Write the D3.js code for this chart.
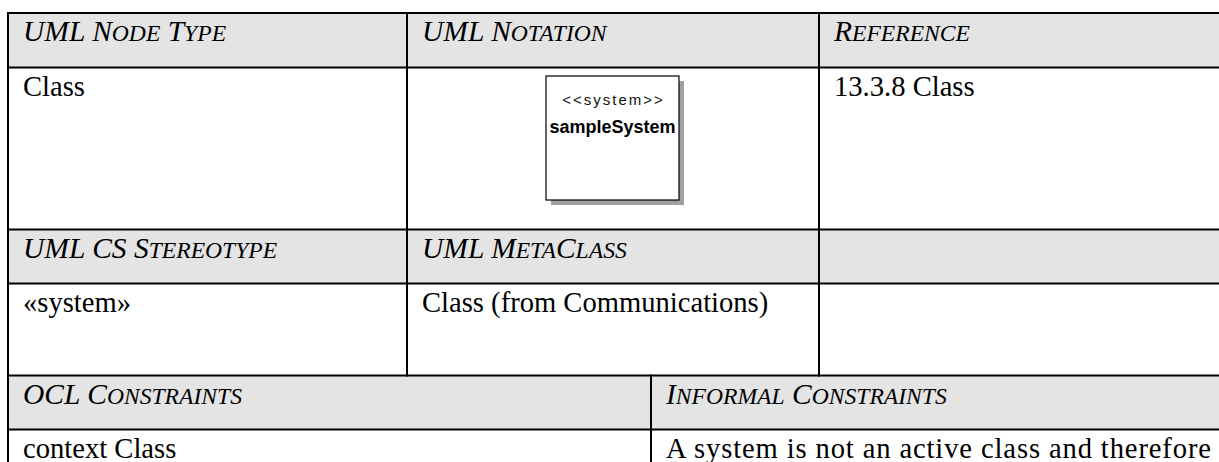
<!DOCTYPE html>
<html>
<head>
<meta charset="utf-8">
<script src="https://cdn.jsdelivr.net/npm/d3@7"></script>
<style>
  html, body { margin: 0; padding: 0; background: #fff; }
  svg { display: block; }
</style>
</head>
<body>
<svg id="chart" width="1219" height="462"></svg>
<script>
// ---- data (table contents) ----
const headerRow1 = ["UML Node Type", "UML Notation", "Reference"];
const bodyRow1 = ["Class", "", "13.3.8 Class"];
const headerRow2 = ["UML CS Stereotype", "UML MetaClass", ""];
const bodyRow2 = ["«system»", "Class (from Communications)", ""];
const headerRow3 = ["OCL Constraints", "Informal Constraints"];
const bodyRow3 = ["context Class", "A system is not an active class and therefore"];
const notationStereotype = ["<<system>>"];
const notationName = ["sampleSystem"];

// ---- layout ----
const svg = d3.select("#chart");

// row boundary lines (index -> y)
const rowLines = d3.scaleOrdinal()
  .domain([0, 1, 2, 3, 4, 5, 6])
  .range([13, 67.5, 229.5, 283.5, 375.5, 429.5, 480]);
// column boundaries for the 3-column part and the 2-column part
const cols3 = d3.scaleOrdinal().domain([0, 1, 2, 3]).range([8, 407, 819, 1240]);
const cols2 = d3.scaleOrdinal().domain([0, 1, 2]).range([8, 651, 1240]);

const GRAY = "#e4e4e4";
const SERIF = "'Liberation Serif', 'Times New Roman', serif";
const SANS = "'Liberation Sans', Arial, sans-serif";
const FS = 28.6;       // body font size
const HFS = 29.5;      // header font size
const SC = 0.8;        // small-caps ratio

const bands = [
  { row: 0, header: true,  cols: cols3, cells: headerRow1 },
  { row: 1, header: false, cols: cols3, cells: bodyRow1 },
  { row: 2, header: true,  cols: cols3, cells: headerRow2 },
  { row: 3, header: false, cols: cols3, cells: bodyRow2 },
  { row: 4, header: true,  cols: cols2, cells: headerRow3 },
  { row: 5, header: false, cols: cols2, cells: bodyRow3 }
];

// backgrounds
svg.selectAll("rect.band")
  .data(bands.filter(b => b.header))
  .join("rect")
  .attr("class", "band")
  .attr("x", 8)
  .attr("y", b => rowLines(b.row))
  .attr("width", 1240)
  .attr("height", b => rowLines(b.row + 1) - rowLines(b.row))
  .attr("fill", GRAY);

// small caps helper
function smallCaps(textSel, str, size) {
  const runs = [];
  for (const ch of str) {
    const isSmall = ch !== ch.toUpperCase();
    const last = runs[runs.length - 1];
    if (last && last.small === isSmall) last.t += ch.toUpperCase();
    else runs.push({ small: isSmall, t: ch.toUpperCase() });
  }
  textSel.selectAll("tspan")
    .data(runs)
    .join("tspan")
    .attr("font-size", r => r.small ? size * SC : size)
    .text(r => r.t);
}

// cell texts
bands.forEach(b => {
  const g = svg.append("g");
  b.cells.forEach((txt, i) => {
    if (!txt) return;
    const x = b.cols(i) + 15;
    const y = rowLines(b.row) + 28;
    const t = g.append("text")
      .attr("x", x)
      .attr("y", y)
      .attr("font-family", SERIF)
      .attr("fill", "#000");
    if (b.header) {
      t.attr("font-style", "italic");
      smallCaps(t, txt, HFS);
    } else {
      t.attr("font-size", FS).text(txt);
      if (b.row === 5 && i === 1) {
        t.attr("textLength", 1211 - x).attr("lengthAdjust", "spacing");
      }
    }
  });
});

// UML notation box (in the notation cell)
const cellL = cols3(1), cellR = cols3(2);
const boxCx = (cellL + cellR) / 2 - 0.5;
const boxW = 133, boxH = 124;
const boxX = boxCx - boxW / 2, boxY = rowLines(1) + 8.5;
const nb = svg.append("g");
nb.append("rect")
  .attr("x", boxX + 5).attr("y", boxY + 5)
  .attr("width", boxW).attr("height", boxH)
  .attr("fill", "#a0a0a0");
nb.append("rect")
  .attr("x", boxX).attr("y", boxY)
  .attr("width", boxW).attr("height", boxH)
  .attr("fill", "#fff").attr("stroke", "#000").attr("stroke-width", 1.2);
nb.selectAll("text.st")
  .data(notationStereotype)
  .join("text")
  .attr("class", "st")
  .attr("x", boxCx + 1).attr("y", boxY + 29)
  .attr("text-anchor", "middle")
  .attr("font-family", SANS)
  .attr("font-size", 15)
  .attr("letter-spacing", 2)
  .attr("fill", "#111")
  .text(d => d);
nb.selectAll("text.nm")
  .data(notationName)
  .join("text")
  .attr("class", "nm")
  .attr("x", boxCx).attr("y", boxY + 57)
  .attr("text-anchor", "middle")
  .attr("font-family", SANS)
  .attr("font-size", 18)
  .attr("font-weight", "bold")
  .attr("fill", "#000")
  .text(d => d);

// grid lines
svg.selectAll("line.h")
  .data([0, 1, 2, 3, 4, 5])
  .join("line")
  .attr("class", "h")
  .attr("x1", 7).attr("x2", 1240)
  .attr("y1", d => rowLines(d)).attr("y2", d => rowLines(d))
  .attr("stroke", "#000").attr("stroke-width", 2);

const vLines = [
  { x: cols3(0), y1: rowLines(0), y2: rowLines(6) },
  { x: cols3(1), y1: rowLines(0), y2: rowLines(4) },
  { x: cols3(2), y1: rowLines(0), y2: rowLines(4) },
  { x: cols2(1), y1: rowLines(4), y2: rowLines(6) }
];
svg.selectAll("line.v")
  .data(vLines)
  .join("line")
  .attr("class", "v")
  .attr("x1", d => d.x).attr("x2", d => d.x)
  .attr("y1", d => d.y1 - 1).attr("y2", d => d.y2 + 1)
  .attr("stroke", "#000").attr("stroke-width", 2);
</script>
</body>
</html>
